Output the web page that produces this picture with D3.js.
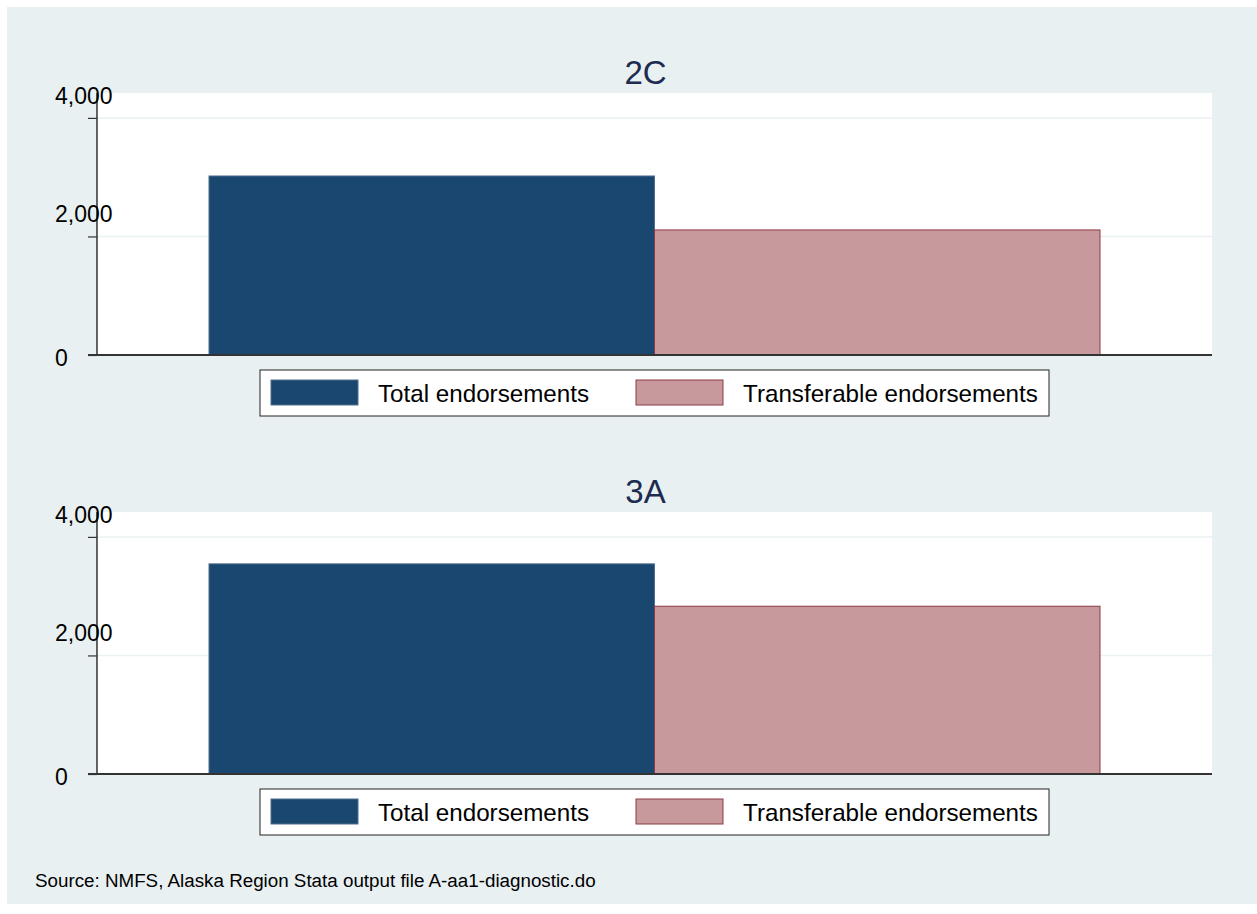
<!DOCTYPE html>
<html>
<head>
<meta charset="utf-8">
<script src="https://cdn.jsdelivr.net/npm/d3@7"></script>
<style>
  html, body { margin: 0; padding: 0; background: #ffffff; }
  svg { display: block; font-family: "Liberation Sans", Arial, Helvetica, sans-serif; }
</style>
</head>
<body>
<svg id="chart" width="1257" height="914"></svg>
<script>
// ---- data ----
const panels = ["2C", "3A"];
const seriesNames = ["Total endorsements", "Transferable endorsements"];
const totalEndorsements = [3020, 3545];
const transferableEndorsements = [2110, 2830];
const yTicks = [0, 2000, 4000];
const sourceNote = "Source: NMFS, Alaska Region Stata output file A-aa1-diagnostic.do";

// ---- styles ----
const fills = ["#1a476f", "#c8999c"];
const strokes = ["#4f6f8f", "#8e3a44"];
const bg = "#e8f0f2";

const svg = d3.select("#chart");
svg.append("rect").attr("x", 7).attr("y", 7).attr("width", 1250).attr("height", 897).attr("fill", bg);

const plotLeft = 97, plotRight = 1212;
const plotH = 262, firstTop = 93, panelGap = 419;

panels.forEach((name, i) => {
  const top = firstTop + i * panelGap;
  const bottom = top + plotH;
  const g = svg.append("g");
  const vals = [totalEndorsements[i], transferableEndorsements[i]];

  const x = d3.scaleBand().domain(seriesNames).range([plotLeft, plotRight])
    .paddingOuter(0.2514).paddingInner(0);
  const y = d3.scaleLinear().domain([0, 4420]).range([bottom, top]);

  // plot region
  g.append("rect").attr("x", plotLeft).attr("y", top)
    .attr("width", plotRight - plotLeft).attr("height", plotH).attr("fill", "#ffffff");

  // gridlines
  g.selectAll(".grid").data(yTicks.filter(d => d > 0)).enter().append("line")
    .attr("x1", plotLeft).attr("x2", plotRight)
    .attr("y1", d => y(d)).attr("y2", d => y(d))
    .attr("stroke", "#eaf1f2").attr("stroke-width", 1.5);

  // title
  g.append("text").attr("x", (plotLeft + plotRight) / 2 - 9).attr("y", top - 9)
    .attr("text-anchor", "middle").attr("font-size", 33).attr("fill", "#1c2b4f").text(name);

  // bars
  g.selectAll(".bar").data(seriesNames).enter().append("rect")
    .attr("x", d => x(d)).attr("width", x.bandwidth())
    .attr("y", (d, j) => y(vals[j])).attr("height", (d, j) => y(0) - y(vals[j]))
    .attr("fill", (d, j) => fills[j]).attr("stroke", (d, j) => strokes[j]).attr("stroke-width", 1);

  // y axis
  const axis = d3.axisLeft(y).tickValues(yTicks).tickSize(9).tickFormat("");
  const ag = g.append("g").attr("transform", `translate(${plotLeft},0)`).call(axis);
  ag.select(".domain").attr("d", `M0,${top}V${bottom}`).attr("stroke", "#000").attr("stroke-width", 1.2);
  ag.selectAll(".tick line").attr("stroke", "#333").attr("stroke-width", 1.2);

  // tick labels
  g.selectAll(".ylab").data(yTicks).enter().append("text")
    .attr("x", 55).attr("y", d => d === 0 ? y(d) + 11 : y(d) - 14)
    .attr("font-size", 23).attr("fill", "#000")
    .text(d => d3.format(",")(d));

  // baseline
  g.append("line").attr("x1", plotLeft - 9).attr("x2", plotRight)
    .attr("y1", y(0)).attr("y2", y(0)).attr("stroke", "#333").attr("stroke-width", 2);

  // legend
  const lg = g.append("g").attr("transform", `translate(0,${bottom + 15})`);
  lg.append("rect").attr("x", 260).attr("y", 0).attr("width", 789).attr("height", 46)
    .attr("fill", "#ffffff").attr("stroke", "#222").attr("stroke-width", 1);
  const swX = [271, 636], txX = [378, 743];
  seriesNames.forEach((s, j) => {
    lg.append("rect").attr("x", swX[j]).attr("y", 10).attr("width", 87).attr("height", 25)
      .attr("fill", fills[j]).attr("stroke", strokes[j]).attr("stroke-width", 1);
    lg.append("text").attr("x", txX[j]).attr("y", 32).attr("font-size", 24.2).attr("fill", "#000").text(s);
  });
});

svg.append("text").attr("x", 35).attr("y", 887).attr("font-size", 18.8).attr("fill", "#000").text(sourceNote);
</script>
</body>
</html>
